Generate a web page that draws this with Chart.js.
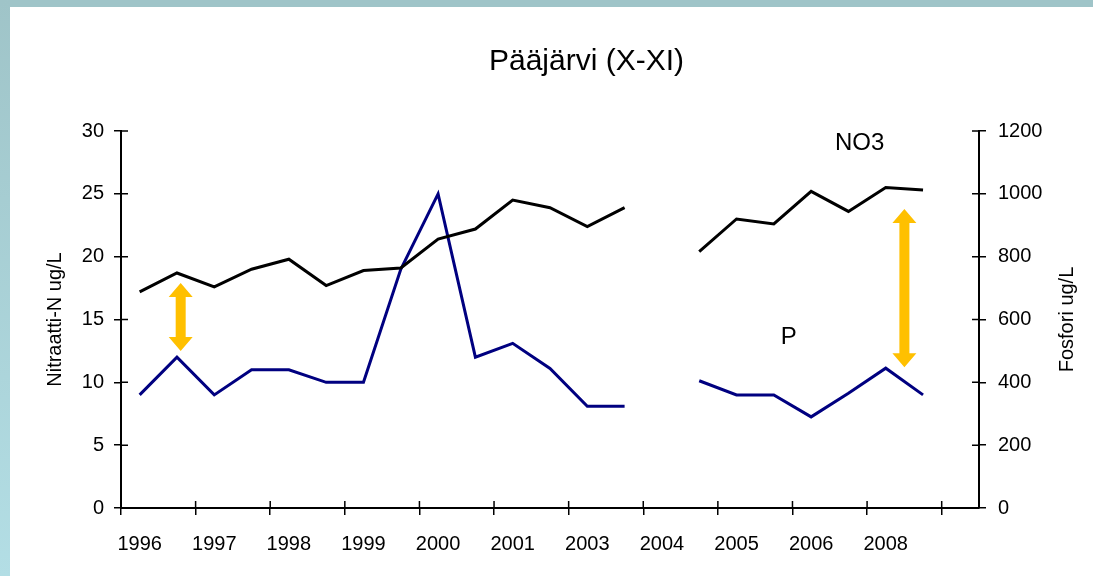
<!DOCTYPE html>
<html>
<head>
<meta charset="utf-8">
<script src="https://cdn.jsdelivr.net/npm/chart.js@4/dist/chart.umd.min.js"></script>
<style>
  body { margin: 0; background: #fff; }
  #wrap { position: relative; width: 1093px; height: 576px; overflow: hidden; background: #fff; }
  #top { position: absolute; left: 0; top: 0; width: 1093px; height: 7px; background: #9fc4c8; }
  #left { position: absolute; left: 0; top: 0; width: 10px; height: 576px; background: linear-gradient(#9fc4c8, #b3dee5); }
  canvas { position: absolute; left: 0; top: 0; }
</style>
</head>
<body>
<div id="wrap">
  <div id="top"></div>
  <div id="left"></div>
  <canvas id="chart" width="1093" height="576"></canvas>
</div>
<script>
// two values per year, last slot left empty like in the original
const labels = ['1996','','1997','','1998','','1999','','2000','','2001','','2003','','2004','','2005','','2006','','2008','','']
const no3 = [17.2, 18.7, 17.6, 19.0, 19.8, 17.7, 18.9, 19.1, 21.4, 22.2, 24.5, 23.9, 22.4, 23.9, null, 20.4, 23.0, 22.6, 25.2, 23.6, 25.5, 25.3, null]
const fosfori = [360, 480, 360, 440, 440, 400, 400, 760, 1000, 480, 524, 444, 324, 324, null, 405, 360, 360, 290, 365, 445, 360, null]

// orange arrows: category position, from / to in left axis units
const arrows = [
    { x: 1.1, from: 17.9, to: 12.5 },
    { x: 20.5, from: 23.8, to: 11.2 }
]
// series names written inside the plot
const seriesNotes = [
    { text: 'NO3', x: 19.3, y: 29.0 },
    { text: 'P', x: 17.4, y: 13.6 }
]

const font = '"Liberation Sans", Arial, sans-serif'
const TICK = 7

function drawArrow(ctx, x, y1, y2){
    const shaft = 5, head = 12, headLen = 14
    ctx.fillStyle = '#ffc000'
    ctx.beginPath()
    ctx.moveTo(x, y1)
    ctx.lineTo(x + head, y1 + headLen)
    ctx.lineTo(x + shaft, y1 + headLen)
    ctx.lineTo(x + shaft, y2 - headLen)
    ctx.lineTo(x + head, y2 - headLen)
    ctx.lineTo(x, y2)
    ctx.lineTo(x - head, y2 - headLen)
    ctx.lineTo(x - shaft, y2 - headLen)
    ctx.lineTo(x - shaft, y1 + headLen)
    ctx.lineTo(x - head, y1 + headLen)
    ctx.closePath()
    ctx.fill()
}

const extras = {
    id: 'extras',
    afterDraw(chart){
        const ctx = chart.ctx
        const area = chart.chartArea
        const x = chart.scales.x, y = chart.scales.y, y1 = chart.scales.y1
        ctx.save()

        // inner half of the cross tick marks
        ctx.strokeStyle = '#000'
        ctx.lineWidth = 1.5
        ctx.beginPath()
        y.ticks.forEach((t, i) => {
            const py = y.getPixelForTick(i)
            ctx.moveTo(area.left, py); ctx.lineTo(area.left + TICK, py)
        })
        y1.ticks.forEach((t, i) => {
            const py = y1.getPixelForTick(i)
            ctx.moveTo(area.right - TICK, py); ctx.lineTo(area.right, py)
        })
        for (let i = 2; i < labels.length; i += 2) {
            const px = x.getPixelForValue(i - 0.5)
            ctx.moveTo(px, area.bottom); ctx.lineTo(px, area.bottom - TICK)
        }
        ctx.stroke()

        arrows.forEach(a => {
            drawArrow(ctx, x.getPixelForValue(a.x), y.getPixelForValue(a.from), y.getPixelForValue(a.to))
        })

        ctx.fillStyle = '#000'
        ctx.textAlign = 'center'
        ctx.textBaseline = 'middle'
        ctx.font = '24px ' + font
        seriesNotes.forEach(n => {
            ctx.fillText(n.text, x.getPixelForValue(n.x), y.getPixelForValue(n.y))
        })

        ctx.font = '30px ' + font
        ctx.fillText('Pääjärvi (X-XI)', chart.width / 2 + 40, 62)

        // axis titles, both reading upwards
        const midY = (area.top + area.bottom) / 2
        ctx.font = '20px ' + font
        ctx.translate(55, midY)
        ctx.rotate(-Math.PI / 2)
        ctx.fillText('Nitraatti-N ug/L', 0, 0)
        ctx.rotate(Math.PI / 2)
        ctx.translate(1067 - 55, 0)
        ctx.rotate(-Math.PI / 2)
        ctx.fillText('Fosfori ug/L', 0, 0)
        ctx.restore()
    }
}

new Chart(document.getElementById('chart'), {
    type: 'line',
    data: {
        labels: labels,
        datasets: [
            { label: 'NO3', data: no3, yAxisID: 'y', borderColor: '#000', borderWidth: 3 },
            { label: 'P', data: fosfori, yAxisID: 'y1', borderColor: '#000080', borderWidth: 3 }
        ]
    },
    options: {
        responsive: false,
        animation: false,
        spanGaps: false,
        elements: { point: { radius: 0 }, line: { tension: 0 } },
        layout: { padding: { top: 131, left: 0, right: 0, bottom: 0 } },
        plugins: { legend: { display: false }, tooltip: { enabled: false }, title: { display: false } },
        scales: {
            x: {
                offset: true,
                grid: {
                    offset: true,
                    drawOnChartArea: false,
                    tickLength: TICK,
                    lineWidth: 1.5,
                    color: c => c.index % 2 === 0 ? '#000' : 'rgba(0,0,0,0)'
                },
                border: { color: '#000', width: 2 },
                ticks: { autoSkip: false, maxRotation: 0, color: '#000', font: { family: font, size: 20 }, padding: 17 },
                afterFit: s => { s.height = 68 }
            },
            y: {
                position: 'left',
                min: 0, max: 30,
                grid: { drawOnChartArea: false, tickLength: TICK, lineWidth: 1.5, color: '#000' },
                border: { color: '#000', width: 2 },
                ticks: { stepSize: 5, color: '#000', font: { family: font, size: 20 }, padding: 10 },
                afterFit: s => { s.width = 121 }
            },
            y1: {
                position: 'right',
                min: 0, max: 1200,
                grid: { drawOnChartArea: false, tickLength: TICK, lineWidth: 1.5, color: '#000' },
                border: { color: '#000', width: 2 },
                ticks: { stepSize: 200, color: '#000', font: { family: font, size: 20 }, padding: 12, callback: v => String(v) },
                afterFit: s => { s.width = 114 }
            }
        }
    },
    plugins: [extras]
})
</script>
</body>
</html>
